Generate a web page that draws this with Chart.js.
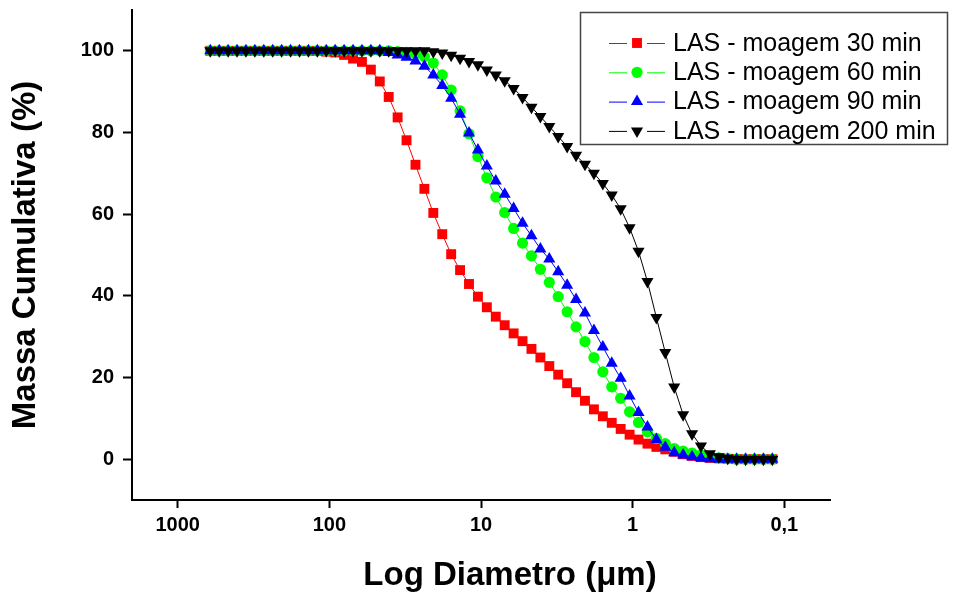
<!DOCTYPE html>
<html lang="pt">
<head>
<meta charset="UTF-8">
<title>Massa Cumulativa - LAS</title>
<script src="https://cdn.jsdelivr.net/npm/chart.js"></script>
<style>
    body { margin: 0; background: #fff; }
    #wrap { width: 956px; height: 592px; }
</style>
</head>
<body>
<div id="wrap"><canvas id="grafico" width="956" height="592"></canvas></div>
<script>
// diametro das particulas (um), mesmo para as quatro curvas
const diametro = [
    609.5, 532.3, 464.9, 406.0, 354.6, 309.7, 270.4, 236.2, 206.3, 180.1, 157.3, 137.4, 120.0, 104.8, 91.52, 79.90, 69.79,
    60.95, 53.23, 46.49, 40.60, 35.46, 30.97, 27.04, 23.62, 20.63, 18.01, 15.73, 13.74, 12.00, 10.48, 9.152, 7.990, 6.979,
    6.095, 5.323, 4.649, 4.060, 3.546, 3.097, 2.704, 2.362, 2.063, 1.801, 1.573, 1.374, 1.200, 1.048, 0.9152, 0.7990, 0.6979,
    0.6095, 0.5323, 0.4649, 0.4060, 0.3546, 0.3097, 0.2704, 0.2362, 0.2063, 0.1801, 0.1573, 0.1374, 0.1200
];
const moagem30 = [
    100, 100, 100, 100, 100, 100, 100, 100, 100, 100, 100, 100, 100, 99.8, 99.6, 99.0, 98.1,
    97.3, 95.4, 92.5, 88.7, 83.7, 78.1, 72.1, 66.2, 60.3, 55.1, 50.2, 46.3, 42.9, 39.8, 37.2, 34.9, 32.8,
    30.8, 28.9, 27.0, 24.9, 22.8, 20.7, 18.6, 16.4, 14.3, 12.2, 10.5, 8.9, 7.4, 6.0, 4.8, 3.8, 3.0,
    2.4, 1.8, 1.2, 0.8, 0.5, 0.3, 0.2, 0.1, 0, 0, 0, 0, 0
];
const moagem60 = [
    100, 100, 100, 100, 100, 100, 100, 100, 100, 100, 100, 100, 100, 100, 100, 100, 100,
    100, 100, 100, 100, 99.8, 99.6, 99.2, 98.6, 97.0, 94.1, 90.4, 85.3, 79.7, 74.1, 68.9, 64.2, 60.4,
    56.5, 52.9, 49.8, 46.5, 43.3, 39.8, 36.1, 32.4, 28.8, 24.9, 21.4, 17.7, 14.9, 11.6, 9.0, 6.7, 5.1,
    3.8, 2.6, 2.0, 1.5, 1.0, 0.6, 0.3, 0.1, 0, 0, 0, 0, 0
];
const moagem90 = [
    100, 100, 100, 100, 100, 100, 100, 100, 100, 100, 100, 100, 100, 100, 100, 100, 100,
    100, 100, 100, 99.6, 99.0, 98.4, 97.5, 96.2, 94.1, 91.5, 88.4, 84.5, 79.9, 75.7, 71.8, 68.1, 64.9,
    61.4, 57.8, 54.7, 51.5, 49.0, 45.9, 42.6, 39.1, 35.8, 31.5, 27.5, 23.5, 19.8, 15.5, 11.4, 7.9, 4.8,
    2.9, 1.6, 1.0, 0.6, 0.3, 0.1, 0, 0, 0, 0, 0, 0, 0
];
const moagem200 = [
    100, 100, 100, 100, 100, 100, 100, 100, 100, 100, 100, 100, 100, 100, 100, 100, 100,
    100, 100, 100, 100, 100, 100, 100, 100, 99.8, 99.5, 98.9, 98.2, 97.4, 96.6, 95.3, 94.1, 92.7,
    90.8, 88.6, 86.2, 83.9, 81.5, 79.0, 76.6, 74.4, 72.2, 70.0, 67.5, 64.7, 61.3, 56.7, 50.9, 43.5, 34.7,
    26.1, 17.7, 10.9, 6.2, 3.2, 1.3, 0.6, 0.2, 0, 0, 0, 0, 0
];
const legendas = ['LAS - moagem 30 min', 'LAS - moagem 60 min', 'LAS - moagem 90 min', 'LAS - moagem 200 min'];
const xMaiores = [1000, 100, 10, 1, 0.1];
const xRotulos = ['1000', '100', '10', '1', '0,1'];
const yRotulos = [0, 20, 40, 60, 80, 100];

const FONTE = "'Liberation Sans', Arial, Helvetica, sans-serif";
Chart.defaults.font.family = FONTE;
Chart.defaults.color = '#000';

const series = [
    { valores: moagem30,  cor: '#ff0000', estilo: 'rect',     raio: 7.0, rot: 0 },
    { valores: moagem60,  cor: '#00ff00', estilo: 'circle',   raio: 5.6, rot: 0 },
    { valores: moagem90,  cor: '#0000ff', estilo: 'triangle', raio: 7.0, rot: 0 },
    { valores: moagem200, cor: '#000000', estilo: 'triangle', raio: 7.0, rot: 180 }
];

// ticks menores (sem rotulo) desenhados curtos
const ticksMenores = {
    id: 'ticksMenores',
    afterDraw(chart) {
        const ctx = chart.ctx, xs = chart.scales.x, ys = chart.scales.y;
        ctx.save();
        ctx.strokeStyle = '#000';
        ctx.lineWidth = 2;
        ctx.beginPath();
        xs.ticks.forEach(t => {
            if (xMaiores.includes(t.value)) return;
            const px = Math.round(xs.getPixelForValue(t.value));
            ctx.moveTo(px, xs.top);
            ctx.lineTo(px, xs.top + 5);
        });
        ys.ticks.forEach(t => {
            if (yRotulos.includes(t.value)) return;
            const py = Math.round(ys.getPixelForValue(t.value));
            ctx.moveTo(ys.right - 5, py);
            ctx.lineTo(ys.right, py);
        });
        ctx.stroke();
        ctx.restore();
    }
};

// titulo do eixo x (deslocado para a direita como no original)
const tituloX = {
    id: 'tituloX',
    afterDraw(chart) {
        const ctx = chart.ctx;
        ctx.save();
        ctx.font = 'bold 33px ' + FONTE;
        ctx.fillStyle = '#000';
        ctx.textAlign = 'center';
        ctx.textBaseline = 'alphabetic';
        ctx.fillText('Log Diametro (\u03bcm)', 510, 585);
        ctx.restore();
    }
};

// legenda com linha - simbolo - linha dentro de uma caixa
const legendaCaixa = {
    id: 'legendaCaixa',
    afterDraw(chart) {
        const ctx = chart.ctx;
        ctx.save();
        ctx.fillStyle = '#fff';
        ctx.fillRect(580, 12, 368, 133);
        ctx.strokeStyle = '#444';
        ctx.lineWidth = 1.5;
        ctx.strokeRect(580.5, 12.5, 367, 132);
        chart.data.datasets.forEach((ds, k) => {
            const y = 43 + k * 29.3;
            ctx.strokeStyle = ds.borderColor;
            ctx.lineWidth = 1;
            ctx.beginPath();
            ctx.moveTo(609, y + 0.5); ctx.lineTo(627, y + 0.5);
            ctx.moveTo(647, y + 0.5); ctx.lineTo(665, y + 0.5);
            ctx.stroke();
            ctx.fillStyle = ds.pointBackgroundColor;
            Chart.helpers.drawPoint(ctx, {
                pointStyle: ds.pointStyle, radius: ds.pointRadius,
                rotation: ds.pointRotation, borderWidth: 0
            }, 637, y);
            ctx.fillStyle = '#000';
            ctx.font = '25px ' + FONTE;
            ctx.textAlign = 'left';
            ctx.textBaseline = 'middle';
            ctx.fillText(ds.label, 673, y + 1);
        });
        ctx.restore();
    }
};

new Chart(document.getElementById('grafico'), {
    type: 'line',
    data: {
        datasets: series.map((s, k) => ({
            label: legendas[k],
            data: diametro.map((d, i) => ({ x: d, y: s.valores[i] })),
            borderColor: s.cor,
            backgroundColor: s.cor,
            borderWidth: 1,
            pointBackgroundColor: s.cor,
            pointBorderColor: s.cor,
            pointBorderWidth: 0,
            pointStyle: s.estilo,
            pointRadius: s.raio,
            pointRotation: s.rot,
            tension: 0,
            fill: false,
            order: 4 - k
        }))
    },
    options: {
        responsive: false,
        animation: false,
        layout: { autoPadding: false, padding: { top: 0, right: 126, bottom: 0, left: 0 } },
        plugins: { legend: { display: false }, tooltip: { enabled: false } },
        scales: {
            x: {
                type: 'logarithmic',
                reverse: true,
                min: 0.05,
                max: 2000,
                afterBuildTicks: scale => {
                    const t = [];
                    for (let e = -2; e <= 3; e++) {
                        for (let m = 1; m <= 9; m++) {
                            const v = +(m * Math.pow(10, e)).toPrecision(3);
                            if (v >= 0.05 && v <= 2000) t.push({ value: v });
                        }
                    }
                    scale.ticks = t;
                },
                afterFit: scale => { scale.height = 92; },
                ticks: {
                    autoSkip: false,
                    maxRotation: 0,
                    padding: 5,
                    font: { size: 20, weight: 'bold' },
                    callback: v => {
                        const k = xMaiores.indexOf(v);
                        return k >= 0 ? xRotulos[k] : null;
                    }
                },
                grid: { drawOnChartArea: false, drawTicks: true, tickLength: 8, tickWidth: 2, tickColor: '#000' },
                border: { display: true, color: '#000', width: 2 },
                title: { display: false }
            },
            y: {
                min: -10,
                max: 110,
                // largura fixa e topo da area em 10 px
                afterFit: scale => { scale.width = 132; scale.paddingTop = 10; scale.paddingBottom = 0; },
                ticks: {
                    stepSize: 10,
                    padding: 9,
                    font: { size: 20, weight: 'bold' },
                    callback: v => (yRotulos.includes(v) ? String(v) : null)
                },
                grid: { drawOnChartArea: false, drawTicks: true, tickLength: 9, tickWidth: 2, tickColor: '#000' },
                border: { display: true, color: '#000', width: 2 },
                title: {
                    display: true,
                    text: 'Massa Cumulativa (%)',
                    font: { size: 33, weight: 'bold' },
                    padding: { top: 6, bottom: 0 }
                }
            }
        }
    },
    plugins: [ticksMenores, tituloX, legendaCaixa]
});
</script>
</body>
</html>
